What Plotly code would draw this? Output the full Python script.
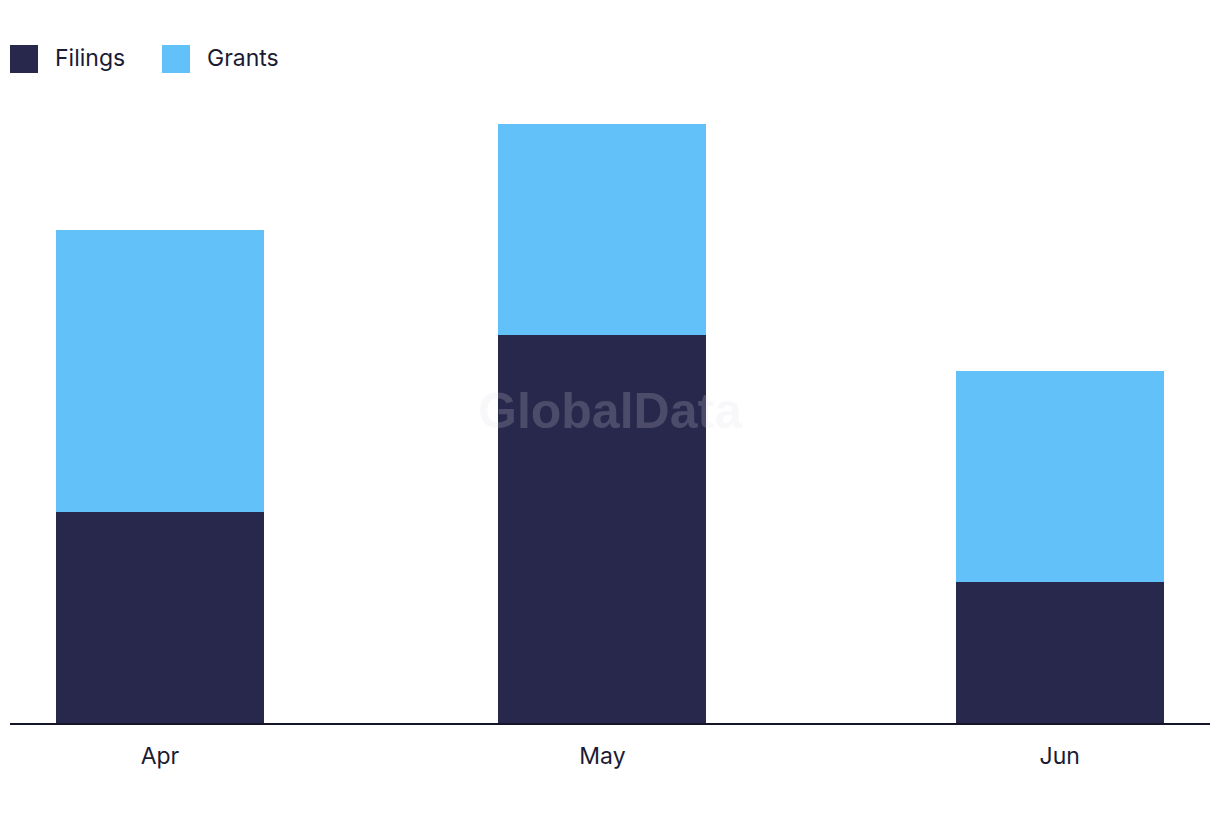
import plotly.graph_objects as go

months = ["2024-04-01", "2024-05-01", "2024-06-01"]
filings = [6, 11, 4]
grants = [8, 6, 6]
series_names = ["Filings", "Grants"]
series_colors = ["#28284c", "#62c1f9"]

# page offset of the plot div (body margin)
OFF = 8
W, H = 1212, 814
ML, MR, MT, MB = 2, 10, 116, 99
PH = H - MT - MB
PW = W - ML - MR

def px_x(p):
    return (p - OFF - ML) / PW

def px_y(p):
    return (H - MB - (p - OFF)) / PH

bar_w = 14.1 * 86400000
fig = go.Figure()
for name, vals, col in zip(series_names, [filings, grants], series_colors):
    fig.add_trace(go.Bar(x=months, y=vals, name=name, marker_color=col,
                         marker_line_width=0, width=bar_w, showlegend=False,
                         hovertemplate="%{x|%b}: %{y}<extra>" + name + "</extra>"))

fig.update_layout(
    barmode="stack",
    width=W, height=H,
    margin=dict(l=ML, r=MR, t=MT, b=MB),
    plot_bgcolor="white", paper_bgcolor="white",
    font=dict(family="Inter, Noto Sans, sans-serif", size=23, color="#1b1b33"),
    xaxis=dict(type="date", range=["2024-03-21 20:00", "2024-06-11 04:30"],
               tickformat="%b", dtick="M1", tick0="2024-04-01",
               showline=True, linecolor="#15152a", linewidth=2,
               showgrid=False, zeroline=False, ticks="", ticklabelstandoff=11),
    yaxis=dict(range=[0, 17], visible=False, showgrid=False, zeroline=False),
)

# legend (manual, to match large swatches)
legend_items = [(10, 55), (162, 207)]
for (sx, tx), name, col in zip(legend_items, series_names, series_colors):
    fig.add_shape(type="rect", xref="paper", yref="paper",
                  x0=px_x(sx), x1=px_x(sx + 28), y0=px_y(73), y1=px_y(45),
                  fillcolor=col, line_width=0)
    fig.add_annotation(xref="paper", yref="paper", x=px_x(tx - 2), y=px_y(58),
                       xanchor="left", yanchor="middle", text=name,
                       showarrow=False, font=dict(size=23, color="#1b1b33"))

fig.add_annotation(xref="paper", yref="paper", x=px_x(610), y=px_y(411),
                   xanchor="center", yanchor="middle", text="<b>GlobalData</b>",
                   showarrow=False,
                   font=dict(family="Liberation Sans, Arial, sans-serif", size=50,
                             color="rgba(220,220,228,0.2)"))

fig.write_html("out.html")
